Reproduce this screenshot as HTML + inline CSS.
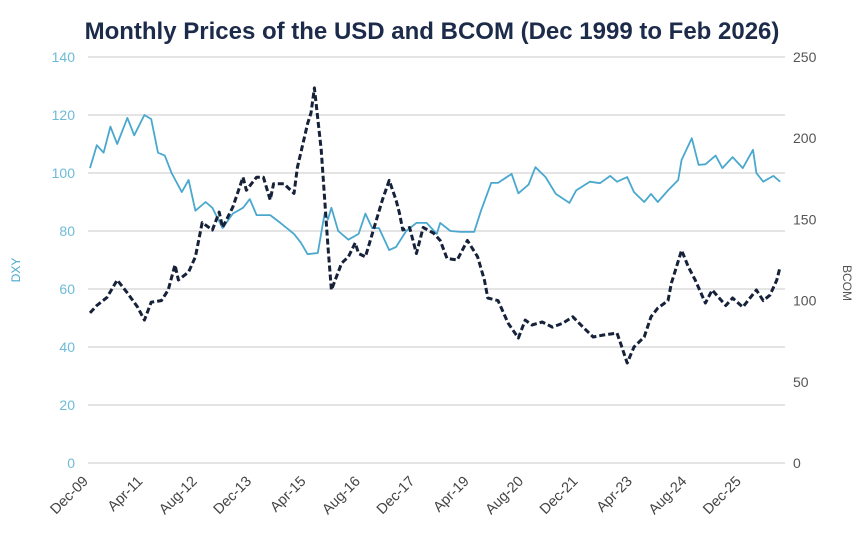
<!DOCTYPE html>
<html><head><meta charset="utf-8"><style>
body{margin:0;background:#fff;}
svg{display:block;font-family:"Liberation Sans",sans-serif;}
</style></head><body>
<svg id="chart" width="865" height="552" viewBox="0 0 865 552" xmlns="http://www.w3.org/2000/svg">
<text x="432" y="39" text-anchor="middle" font-size="24" font-weight="bold" fill="#1d2b4a">Monthly Prices of the USD and BCOM (Dec 1999 to Feb 2026)</text>
<g id="grid"></g><g id="ticks"></g><g id="series"></g>
<text transform="translate(20,270) rotate(-90)" text-anchor="middle" font-size="12" fill="#4aa8cf">DXY</text>
<text transform="translate(843,283) rotate(90)" text-anchor="middle" font-size="12" fill="#555">BCOM</text>
</svg>
<script>
const xLabels=["Dec-09","Apr-11","Aug-12","Dec-13","Apr-15","Aug-16","Dec-17","Apr-19","Aug-20","Dec-21","Apr-23","Aug-24","Dec-25"];
const leftTicks=[0,20,40,60,80,100,120,140];
const rightTicks=[0,50,100,150,200,250];
const dxyMonths=[0,2,4,6,8,11,13,16,18,20,22,24,27,29,31,34,36,39,42,45,47,49,53,56,60,62,64,67,69,70,71,73,76,79,81,83,85,88,90,93,96,99,102,103,106,109,113,115,118,120,124,126,129,131,134,137,141,143,147,150,153,155,158,160,163,165,167,170,173,174,177,179,181,184,186,189,192,195,196,198,201,203];
const dxyValues=[101.7,109.6,107,116,110,119,113,120,118.6,107,106,100,93.4,97.6,87,90,88,81,86,88,91,85.5,85.5,82.8,79,76,72,72.4,86,84,88,80,77,79,86,81,81,73.4,74.5,80,82.8,82.8,79,82.8,80,79.7,79.7,87,96.6,96.6,99.7,93,96,102,98.6,92.8,89.7,94,97,96.5,99,97,98.6,93.4,90,92.8,90,94,97.6,104.5,112,102.8,103,106,101.7,105.5,101.7,108,100,97,99,97];
const bcomMonths=[0,2,5,8,11,14,16,18,21,23,25,26,29,31,33,36,38,39,42,45,46,49,51,53,54,57,60,61,64,65,66,68,70,71,74,76,78,79,81,84,86,88,90,91,92,94,96,98,101,103,105,108,111,114,116,117,120,123,126,128,130,133,136,139,142,145,148,151,155,156,158,160,163,165,167,170,171,174,176,178,181,183,187,189,192,196,198,200,202,203];
const bcomValues=[92.4,97,102,112.7,104.7,96,88,99,100,106.5,122,112.7,117.6,127,148,143.5,154.5,145,157.6,176,168,176,176,162,172,172,166,182,209,215.5,231,193,133,106.5,123,127,135.5,129,127,148,162,174,162,154,143.5,145,129,145,141.6,137,126,125,137,127,112.7,101.6,100,86,77,88,85,86.8,83.7,86,90,83.7,77.6,78.8,80,74,61.6,71.4,77.6,90,95.4,100,110.8,131,120.7,112.7,98.5,106.5,97,101.6,96,106.5,100,103.4,112.7,121];
const NS="http://www.w3.org/2000/svg";
const x=m=>90+m*3.4;
const yL=v=>463-v*2.9;
const yR=v=>463-v*1.624;
const grid=document.getElementById('grid'),ticks=document.getElementById('ticks'),series=document.getElementById('series');
function mk(tag,attrs,parent,text){const e=document.createElementNS(NS,tag);for(const k in attrs)e.setAttribute(k,attrs[k]);if(text!==undefined)e.textContent=text;parent.appendChild(e);return e;}
leftTicks.forEach(v=>{
  const l=mk('line',{x1:88,x2:785,y1:yL(v),y2:yL(v),stroke:'#dcdcdc','stroke-width':1.5},grid);
  
  
  const t=mk('text',{x:75,y:yL(v)+5,'text-anchor':'end','font-size':14,fill:'#6dbbd8'},ticks,String(v));
  
  
});
rightTicks.forEach(v=>{
  const t=mk('text',{x:793,y:yR(v)+5,'font-size':14,fill:'#555'},ticks,String(v));
  
  
});
xLabels.forEach((s,i)=>{
  const px=x(i*16)-1;
  const t=mk('text',{transform:`translate(${px},482) rotate(-45)`,'text-anchor':'end','font-size':14.5,fill:'#444'},ticks,s);
  
  
});
const dP=dxyMonths.map((m,i)=>(i?'L':'M')+x(m).toFixed(1)+','+yL(dxyValues[i]).toFixed(1)).join(' ');
const dl=mk('path',{d:dP,fill:'none',stroke:'#4aa8cf','stroke-width':1.8,'stroke-linejoin':'round'},series);


const bP=bcomMonths.map((m,i)=>(i?'L':'M')+x(m).toFixed(1)+','+yR(bcomValues[i]).toFixed(1)).join(' ');
const bl=mk('path',{d:bP,fill:'none',stroke:'#16213a','stroke-width':3,'stroke-dasharray':'6 3','stroke-linejoin':'round'},series);


</script>
</body></html>
